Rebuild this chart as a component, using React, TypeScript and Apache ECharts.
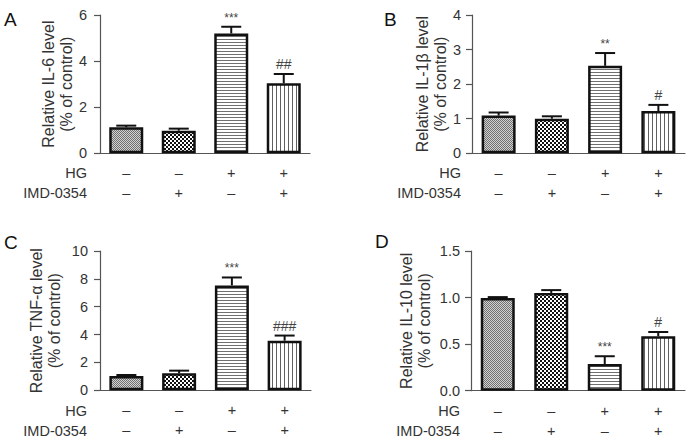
import React, { useEffect, useRef } from 'react';
import * as echarts from 'echarts';

const hgSigns = ['–', '–', '+', '+'];
const imdSigns = ['–', '+', '–', '+'];
const categories = hgSigns.map((h, i) => h + '\n' + imdSigns[i]);

const il6Values = [1.13, 0.98, 5.2, 3.04];
const il6Err = [1.2, 1.07, 5.49, 3.44];
const il6Marks = ['', '', '***', '##'];

const il1bValues = [1.09, 1.0, 2.53, 1.22];
const il1bErr = [1.18, 1.07, 2.9, 1.4];
const il1bMarks = ['', '', '**', '#'];

const tnfValues = [1.03, 1.22, 7.53, 3.56];
const tnfErr = [1.1, 1.41, 8.1, 3.93];
const tnfMarks = ['', '', '***', '###'];

const il10Values = [0.995, 1.05, 0.287, 0.584];
const il10Err = [1.005, 1.08, 0.37, 0.63];
const il10Marks = ['', '', '***', '#'];

const yNames = [
  'Relative IL-6 level\n(% of control)',
  'Relative IL-1β level\n(% of control)',
  'Relative TNF-α level\n(% of control)',
  'Relative IL-10 level\n(% of control)',
];
const yMax = [6, 4, 10, 1.5];
const yInterval = [2, 1, 2, 0.5];
const panelLetters = ['A', 'B', 'C', 'D'];

const FONT = "'Liberation Sans', Arial, Helvetica, sans-serif";
const TEXT = '#333';
const AXIS = '#555';

function makePattern(kind: string): HTMLCanvasElement {
  const c = document.createElement('canvas');
  const ctx = c.getContext('2d')!;
  if (kind === 'stipple') {
    c.width = 2; c.height = 2;
    ctx.fillStyle = '#d2d2d2'; ctx.fillRect(0, 0, 2, 2);
    ctx.fillStyle = '#707070'; ctx.fillRect(0, 0, 1, 1); ctx.fillRect(1, 1, 1, 1);
  } else if (kind === 'checker') {
    c.width = 4; c.height = 4;
    ctx.fillStyle = '#ffffff'; ctx.fillRect(0, 0, 4, 4);
    ctx.fillStyle = '#111111'; ctx.fillRect(0, 0, 2, 2); ctx.fillRect(2, 2, 2, 2);
  } else if (kind === 'hlines') {
    c.width = 4; c.height = 3;
    ctx.fillStyle = '#ffffff'; ctx.fillRect(0, 0, 4, 3);
    ctx.fillStyle = '#707070'; ctx.fillRect(0, 0, 4, 1);
  } else {
    c.width = 4; c.height = 4;
    ctx.fillStyle = '#ffffff'; ctx.fillRect(0, 0, 4, 4);
    ctx.fillStyle = '#606060'; ctx.fillRect(0, 0, 1, 4);
  }
  return c;
}

export default function App() {
  const ref = useRef<HTMLDivElement>(null);
  useEffect(() => {
    if (!ref.current) return;
    const chart = echarts.init(ref.current, undefined, { renderer: 'svg' });
    const patterns = ['stipple', 'checker', 'hlines', 'vlines'].map((k) => ({
      image: makePattern(k),
      repeat: 'repeat',
    }));

    const panels = [
      { values: il6Values, err: il6Err, marks: il6Marks },
      { values: il1bValues, err: il1bErr, marks: il1bMarks },
      { values: tnfValues, err: tnfErr, marks: tnfMarks },
      { values: il10Values, err: il10Err, marks: il10Marks },
    ];

    const grids = [
      { left: 100, top: 15, width: 210, height: 138.3 },
      { left: 472, top: 15, width: 213, height: 138.3 },
      { left: 100, top: 251, width: 211, height: 139.3 },
      { left: 471, top: 251, width: 214, height: 139.7 },
    ];
    const nameGaps = [25, 22, 37, 38];
    const labelMargins = [13, 11, 12, 11];

    const xAxis = grids.map((_, i) => ({
      type: 'category',
      gridIndex: i,
      data: categories,
      axisLine: { lineStyle: { color: AXIS, width: 1.2 } },
      axisTick: { alignWithLabel: true, length: 6, lineStyle: { color: AXIS, width: 1.2 } },
      axisLabel: {
        interval: 0, color: TEXT, fontSize: 14.5, lineHeight: 20, margin: 10, fontFamily: FONT,
      },
    }));

    const yAxis = grids.map((_, i) => ({
      type: 'value',
      gridIndex: i,
      min: 0,
      max: yMax[i],
      interval: yInterval[i],
      name: yNames[i],
      nameLocation: 'middle',
      nameGap: nameGaps[i],
      nameTextStyle: { color: TEXT, fontSize: 16, lineHeight: 18, fontFamily: FONT },
      axisLine: { show: true, lineStyle: { color: AXIS, width: 1.2 } },
      axisTick: { show: true, length: 6, lineStyle: { color: AXIS, width: 1.2 } },
      splitLine: { show: false },
      axisLabel: {
        color: TEXT, fontSize: 14.5, margin: labelMargins[i], fontFamily: FONT,
        formatter: i === 3 ? (v: number) => v.toFixed(1) : (v: number) => String(v),
      },
    }));

    const series: any[] = [];
    panels.forEach((p, i) => {
      series.push({
        type: 'bar',
        xAxisIndex: i,
        yAxisIndex: i,
        barWidth: 34,
        data: p.values.map((v, j) => ({
          value: v,
          itemStyle: { color: patterns[j], borderColor: '#111', borderWidth: 2.5 },
        })),
        z: 2,
      });
      const marks = p.marks;
      series.push({
        type: 'custom',
        xAxisIndex: i,
        yAxisIndex: i,
        z: 3,
        data: p.err.map((e, j) => [j, e, p.values[j]]),
        encode: { x: 0, y: 1 },
        renderItem: (params: any, api: any) => {
          const idx = api.value(0);
          const top = api.coord([idx, api.value(1)]);
          const base = api.coord([idx, api.value(2)]);
          const x = top[0];
          const children: any[] = [
            { type: 'line', shape: { x1: x, y1: base[1], x2: x, y2: top[1] }, style: { stroke: '#111', lineWidth: 2 } },
            { type: 'line', shape: { x1: x - 10, y1: top[1], x2: x + 10, y2: top[1] }, style: { stroke: '#111', lineWidth: 2 } },
          ];
          const m = marks[params.dataIndex];
          if (m) {
            const isStar = m.indexOf('*') >= 0;
            children.push({
              type: 'text',
              style: {
                text: m, x, y: top[1] - 3,
                align: 'center', verticalAlign: 'bottom',
                textAlign: 'center', textVerticalAlign: 'bottom',
                fill: '#444', font: `${isStar ? 12 : 14}px ${FONT}`,
              },
            });
          }
          return { type: 'group', children };
        },
      });
    });

    const graphic: any[] = [];
    const letterPos = [[4, 19], [384, 19], [4, 242], [375, 241]];
    letterPos.forEach((pos, i) => {
      graphic.push({
        type: 'text', x: pos[0], y: pos[1],
        style: {
          text: panelLetters[i], fill: '#111', font: `19px ${FONT}`,
          align: 'left', verticalAlign: 'middle', textAlign: 'left', textVerticalAlign: 'middle',
        },
      });
    });
    const rowPos = [[87, 173], [461, 173], [87, 410.7], [460, 410.7]];
    rowPos.forEach((pos) => {
      ['HG', 'IMD-0354'].forEach((t, k) => {
        graphic.push({
          type: 'text', x: pos[0], y: pos[1] + k * 20,
          style: {
            text: t, fill: TEXT, font: `14.5px ${FONT}`,
            align: 'right', verticalAlign: 'middle', textAlign: 'right', textVerticalAlign: 'middle',
          },
        });
      });
    });

    chart.setOption({
      animation: false,
      backgroundColor: '#ffffff',
      grid: grids,
      xAxis,
      yAxis,
      series,
      graphic,
    });
    return () => chart.dispose();
  }, []);
  return (
    <div
      ref={ref}
      style={{ position: 'fixed', left: 0, top: 0, width: 690, height: 441, background: '#fff' }}
    />
  );
}
